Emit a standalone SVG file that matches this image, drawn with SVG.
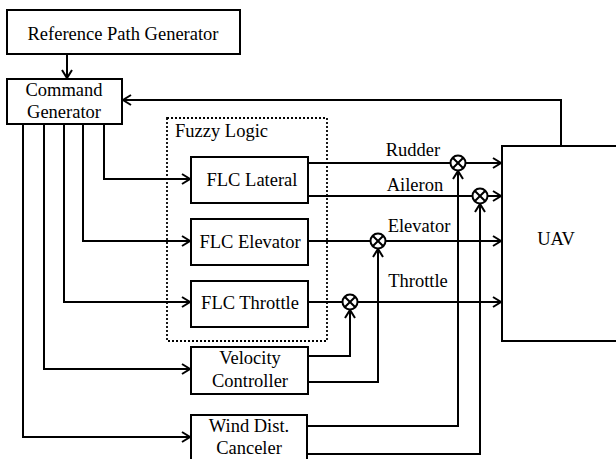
<svg xmlns="http://www.w3.org/2000/svg" width="616" height="459" viewBox="0 0 616 459">
<defs>
<style>
.box{fill:#fff;stroke:#000;stroke-width:2}
.t{font-family:"Liberation Serif","Times New Roman",serif;font-size:18.5px;fill:#000;text-anchor:middle}
.c{fill:none;stroke:#000;stroke-width:2}
.j{fill:#fff;stroke:#000;stroke-width:2}
</style>
<marker id="ah" markerUnits="userSpaceOnUse" markerWidth="12" markerHeight="14" refX="9" refY="6" orient="auto">
<path d="M1,1 L9,6 L1,11" fill="none" stroke="#000" stroke-width="2"/>
</marker>
</defs>
<rect width="616" height="459" fill="#fff"/>

<g id="fuzzy-logic">
<rect x="167" y="118" width="160" height="223" fill="none" stroke="#000" stroke-width="1.8" stroke-dasharray="2,2"/>
<text class="t" x="175" y="137" style="text-anchor:start">Fuzzy Logic</text>
</g>

<g id="connectors">
<path class="c" d="M67,54 V78" marker-end="url(#ah)"/>
<path class="c" d="M561,146 V100 H123" marker-end="url(#ah)"/>
<path class="c" d="M104,124 V179 H190" marker-end="url(#ah)"/>
<path class="c" d="M83,124 V241 H190" marker-end="url(#ah)"/>
<path class="c" d="M64,124 V302 H190" marker-end="url(#ah)"/>
<path class="c" d="M44,124 V369 H190" marker-end="url(#ah)"/>
<path class="c" d="M23,124 V437 H190" marker-end="url(#ah)"/>
<path class="c" d="M309,163 H450"/>
<path class="c" d="M466,163 H501" marker-end="url(#ah)"/>
<path class="c" d="M309,196 H472"/>
<path class="c" d="M488,196 H501" marker-end="url(#ah)"/>
<path class="c" d="M309,241 H370"/>
<path class="c" d="M386,241 H501" marker-end="url(#ah)"/>
<path class="c" d="M309,302 H342"/>
<path class="c" d="M358,302 H501" marker-end="url(#ah)"/>
<path class="c" d="M308,356 H350 V310" marker-end="url(#ah)"/>
<path class="c" d="M308,382 H378 V249" marker-end="url(#ah)"/>
<path class="c" d="M307,426 H458 V171" marker-end="url(#ah)"/>
<path class="c" d="M307,454 H480 V204" marker-end="url(#ah)"/>
</g>

<g id="junctions">
<g id="sum-rudder"><circle class="j" cx="458" cy="163" r="7.5"/><path class="c" d="M452.7,157.7 L463.3,168.3 M463.3,157.7 L452.7,168.3"/></g>
<g id="sum-aileron"><circle class="j" cx="480" cy="196" r="7.5"/><path class="c" d="M474.7,190.7 L485.3,201.3 M485.3,190.7 L474.7,201.3"/></g>
<g id="sum-elevator"><circle class="j" cx="378" cy="241" r="7.5"/><path class="c" d="M372.7,235.7 L383.3,246.3 M383.3,235.7 L372.7,246.3"/></g>
<g id="sum-throttle"><circle class="j" cx="350" cy="302" r="7.5"/><path class="c" d="M344.7,296.7 L355.3,307.3 M355.3,296.7 L344.7,307.3"/></g>
</g>

<g id="labels">
<text class="t" x="413" y="156">Rudder</text>
<text class="t" x="415" y="191">Aileron</text>
<text class="t" x="419" y="232">Elevator</text>
<text class="t" x="418" y="287">Throttle</text>
</g>

<g id="ref-path-generator">
<rect class="box" x="7" y="10" width="233" height="44"/>
<text class="t" x="123" y="40">Reference Path Generator</text>
</g>
<g id="command-generator">
<rect class="box" x="7" y="79" width="115" height="45"/>
<text class="t" x="64" y="96">Command</text>
<text class="t" x="64" y="118">Generator</text>
</g>
<g id="flc-lateral">
<rect class="box" x="191" y="157" width="117" height="46"/>
<text class="t" x="252" y="186">FLC Lateral</text>
</g>
<g id="flc-elevator">
<rect class="box" x="191" y="219" width="117" height="46"/>
<text class="t" x="250" y="248">FLC Elevator</text>
</g>
<g id="flc-throttle">
<rect class="box" x="191" y="281" width="117" height="46"/>
<text class="t" x="250" y="309">FLC Throttle</text>
</g>
<g id="velocity-controller">
<rect class="box" x="191" y="347" width="117" height="47"/>
<text class="t" x="250" y="364">Velocity</text>
<text class="t" x="250" y="387">Controller</text>
</g>
<g id="wind-dist-canceler">
<rect class="box" x="191" y="415" width="116" height="50"/>
<text class="t" x="249" y="432">Wind Dist.</text>
<text class="t" x="249" y="454">Canceler</text>
</g>
<g id="uav">
<rect class="box" x="502" y="146" width="120" height="195"/>
<text class="t" x="556" y="245">UAV</text>
</g>
</svg>
